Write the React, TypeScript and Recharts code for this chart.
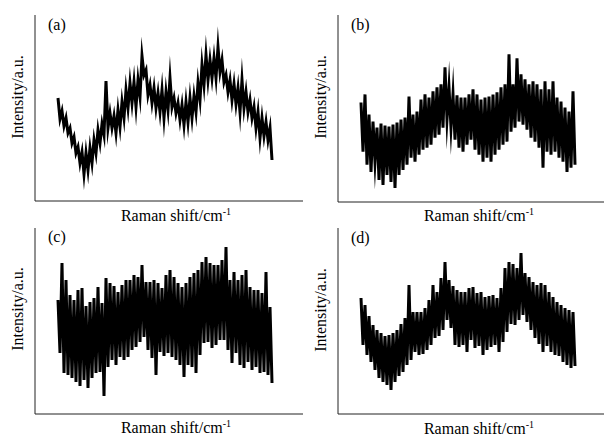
import { Line, LineChart, XAxis, YAxis } from "recharts";

// each spectrum is read as an upper and a lower edge of the noise band,
// one pair per sample step along the Raman shift axis
const aUpper = [103, 90, 83, 73, 64, 54, 49, 48, 53, 61, 71, 77, 120, 88, 85, 91, 99, 111, 118, 119, 121, 145, 131, 116, 113, 108, 111, 109, 123, 103, 98, 96, 99, 103, 105, 118, 136, 146, 141, 143, 154, 141, 126, 121, 117, 113, 121, 109, 101, 94, 89, 83, 79, 73];
const aLower = [82, 75, 68, 58, 48, 38, 27, 31, 38, 48, 58, 66, 73, 73, 68, 74, 83, 93, 98, 94, 104, 126, 106, 98, 93, 89, 83, 91, 94, 88, 81, 76, 79, 83, 89, 101, 116, 121, 123, 123, 129, 119, 109, 101, 97, 89, 93, 89, 83, 73, 63, 65, 61, 41];

const bUpper = [99, 107, 87, 80, 74, 78, 76, 75, 77, 79, 82, 84, 105, 87, 90, 102, 107, 104, 110, 114, 117, 134, 114, 107, 106, 104, 104, 107, 112, 107, 102, 104, 105, 107, 109, 114, 117, 147, 117, 143, 127, 122, 117, 120, 117, 112, 120, 112, 120, 104, 100, 94, 90, 110];
const bLower = [50, 37, 30, 40, 22, 17, 27, 20, 14, 27, 32, 37, 44, 40, 47, 52, 54, 57, 64, 67, 74, 82, 74, 62, 54, 50, 57, 62, 52, 47, 40, 44, 40, 47, 52, 57, 60, 70, 74, 80, 77, 72, 64, 60, 54, 34, 50, 47, 50, 44, 40, 30, 34, 37];

const cUpper = [114, 151, 134, 119, 114, 124, 126, 108, 112, 116, 127, 111, 136, 131, 128, 122, 129, 134, 134, 139, 137, 149, 132, 132, 134, 131, 126, 139, 144, 137, 131, 127, 131, 137, 141, 144, 152, 157, 151, 149, 149, 154, 167, 134, 142, 134, 139, 144, 127, 124, 124, 121, 142, 107];
const cLower = [61, 41, 39, 36, 32, 28, 34, 26, 36, 41, 42, 18, 47, 54, 49, 57, 54, 57, 64, 67, 72, 77, 64, 56, 39, 62, 58, 61, 57, 54, 49, 37, 49, 47, 41, 59, 71, 72, 66, 69, 74, 74, 64, 51, 61, 49, 46, 52, 44, 47, 41, 42, 39, 31];

const dUpper = [116, 109, 98, 89, 84, 81, 78, 79, 81, 84, 90, 96, 129, 102, 102, 102, 106, 114, 129, 122, 136, 152, 134, 128, 124, 122, 122, 126, 127, 121, 122, 117, 118, 119, 116, 126, 146, 152, 150, 146, 161, 141, 137, 132, 129, 131, 129, 122, 117, 112, 109, 106, 104, 102];
const dLower = [69, 59, 52, 44, 36, 32, 29, 24, 32, 38, 42, 49, 54, 62, 59, 60, 64, 69, 76, 78, 84, 94, 86, 69, 67, 69, 62, 74, 66, 68, 59, 64, 67, 69, 62, 72, 82, 90, 89, 94, 99, 92, 84, 76, 70, 62, 68, 62, 59, 58, 52, 49, 46, 48];

const panelTags = ["(a)", "(b)", "(c)", "(d)"];

// zigzag trace running up and down between the two edges
const toSeries = (upper: number[], lower: number[]) =>
  upper.flatMap((u, i) => [
    { shift: i, intensity: u },
    { shift: i + 0.5, intensity: lower[i] },
  ]);

const FONT = "'Liberation Serif', 'Times New Roman', serif";

const Panel = ({ data, left, top, width, height, margin, xDomain }: any) => (
  <div style={{ position: "absolute", left, top }}>
    <LineChart width={width} height={height} data={data} margin={margin}>
      <XAxis
        type="number"
        dataKey="shift"
        domain={xDomain}
        allowDataOverflow
        tick={false}
        tickLine={false}
        height={1}
        axisLine={{ stroke: "#222", strokeWidth: 1 }}
      />
      <YAxis
        type="number"
        domain={[0, 186]}
        allowDataOverflow
        tick={false}
        tickLine={false}
        width={1}
        axisLine={{ stroke: "#222", strokeWidth: 1 }}
      />
      <Line
        type="linear"
        dataKey="intensity"
        stroke="#000"
        strokeWidth={3}
        strokeLinejoin="miter"
        strokeMiterlimit={20}
        dot={false}
        activeDot={false}
        isAnimationActive={false}
      />
    </LineChart>
  </div>
);

const Labels = ({ x0, y0, tag }: any) => (
  <g fontFamily={FONT} fontSize={16} fill="#000">
    <text x={x0 + 13} y={y0 + 30}>{tag}</text>
    <text
      x={x0 - 12}
      y={y0 + 97}
      textAnchor="middle"
      transform={`rotate(-90, ${x0 - 12}, ${y0 + 97})`}
    >
      Intensity/a.u.
    </text>
    <text x={x0 + 141} y={y0 + 221} textAnchor="middle">
      Raman shift/cm
      <tspan dy={-6} fontSize={10}>-1</tspan>
    </text>
  </g>
);

export default function App() {
  return (
    <div
      style={{
        position: "absolute",
        left: 0,
        top: 0,
        width: 604,
        height: 437,
        background: "#fff",
        overflow: "hidden",
      }}
    >
      <Panel
        data={toSeries(aUpper, aLower)}
        left={0}
        top={0}
        width={304}
        height={218}
        margin={{ top: 15, left: 34, right: 1, bottom: 16 }}
        xDomain={[-5.75, 61.25]}
      />
      <Panel
        data={toSeries(bUpper, bLower)}
        left={302}
        top={0}
        width={302}
        height={218}
        margin={{ top: 15, left: 35, right: 0, bottom: 15 }}
        xDomain={[-5.75, 60.75]}
      />
      <Panel
        data={toSeries(cUpper, cLower)}
        left={0}
        top={218}
        width={304}
        height={219}
        margin={{ top: 10, left: 34, right: 1, bottom: 22 }}
        xDomain={[-5.75, 61.25]}
      />
      <Panel
        data={toSeries(dUpper, dLower)}
        left={302}
        top={218}
        width={302}
        height={219}
        margin={{ top: 10, left: 35, right: 0, bottom: 22 }}
        xDomain={[-5.75, 60.75]}
      />
      <svg
        width={604}
        height={437}
        style={{ position: "absolute", left: 0, top: 0, pointerEvents: "none" }}
      >
        <Labels x0={35} y0={0} tag={panelTags[0]} />
        <Labels x0={338} y0={0} tag={panelTags[1]} />
        <Labels x0={35} y0={212} tag={panelTags[2]} />
        <Labels x0={338} y0={213} tag={panelTags[3]} />
      </svg>
    </div>
  );
}
